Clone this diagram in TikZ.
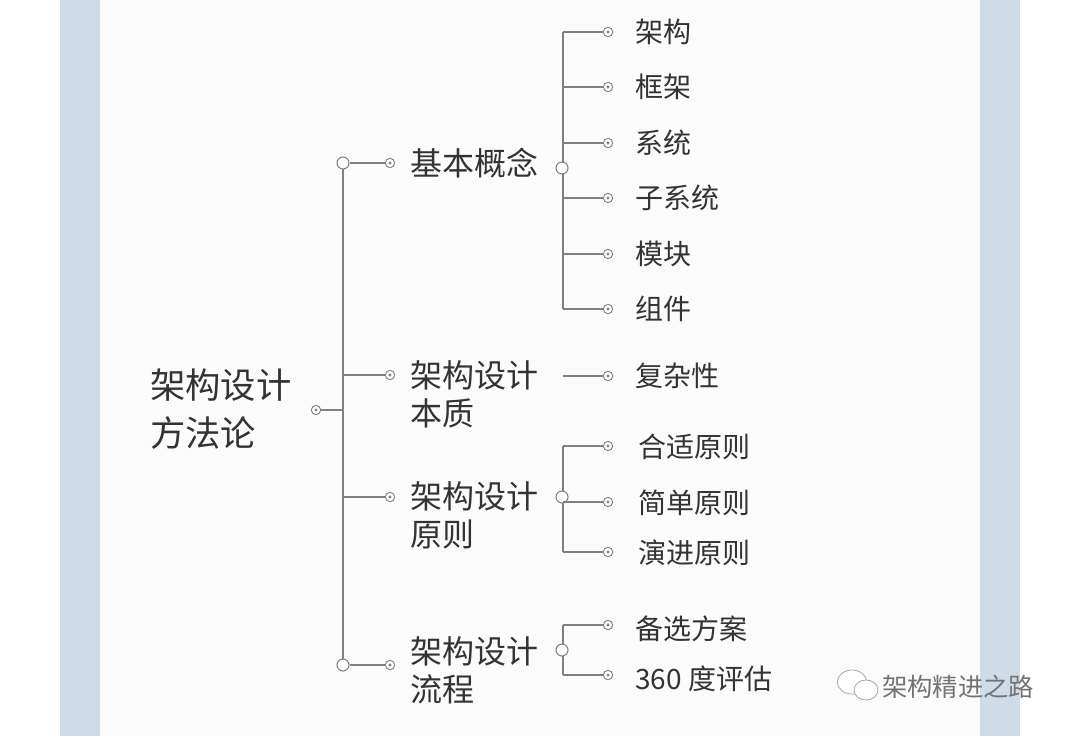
\documentclass[tikz,border=0pt]{standalone}
\usepackage{fontspec}
\newfontfamily\cjk{Noto Sans CJK SC}
\definecolor{bar}{HTML}{CFDCE8}
\begin{document}
\begin{tikzpicture}[x=0.75pt,y=-0.75pt,
  ln/.style={draw=black!50,line width=0.9pt},
  oc/.style={circle,draw=black!50,fill=white,line width=0.8pt,inner sep=0pt,minimum size=9pt},
  dc/.style={circle,draw=black!50,fill=white,line width=0.7pt,inner sep=0pt,minimum size=7pt,path picture={\fill[black!50] (path picture bounding box.center) circle (1.2pt);}},
  big/.style={font=\cjk\fontsize{26.5}{36}\selectfont,text=black!80,anchor=west,align=left,inner sep=0pt},
  mid/.style={font=\cjk\fontsize{24}{29}\selectfont,text=black!80,anchor=west,align=left,inner sep=0pt},
  leaf/.style={font=\cjk\fontsize{21}{24}\selectfont,text=black!80,anchor=west,inner sep=0pt}]
\useasboundingbox (0,0) rectangle (1080,736);
\fill[white] (0,0) rectangle (1080,736);
\fill[bar] (60,0) rectangle (100,736);
\fill[bar] (980,0) rectangle (1020,736);
\fill[gray!3] (100,0) rectangle (980,736);
% root
\node[big] (root) at (150,409) {架构设计\\方法论};
\node[dc] (r) at (316,410) {};
\coordinate (t) at (343,410);
\draw[ln] (r) -- (t);
\coordinate (ttop) at (343,163);
\coordinate (tbot) at (343,665);
\draw[ln] (ttop) -- (tbot);
% branches
\node[oc] (b1o) at (343,163) {};
\node[oc] (b4o) at (343,665) {};
\node[dc] (b1) at (390,163) {};
\node[dc] (b2) at (390,375) {};
\node[dc] (b3) at (390,497) {};
\node[dc] (b4) at (390,665) {};
\coordinate (t2) at (343,375);
\coordinate (t3) at (343,497);
\draw[ln] (b1o) -- (b1);
\draw[ln] (t2) -- (b2);
\draw[ln] (t3) -- (b3);
\draw[ln] (b4o) -- (b4);
\node[mid] (n1) at (410,163) {基本概念};
\node[mid,anchor=north west] (n2) at (410,360) {架构设计\\本质};
\node[mid,anchor=north west] (n3) at (410,481) {架构设计\\原则};
\node[mid,anchor=north west] (n4) at (410,636) {架构设计\\流程};
% sub 1
\coordinate (s1t) at (563,32);
\coordinate (s1b) at (563,309);
\draw[ln] (s1t) -- (s1b);
\node[oc] (s1o) at (562,168) {};
\foreach \y/\t/\n in {32/架构/a,87/框架/b,143/系统/c,198/子系统/d,254/模块/e,309/组件/f}{
  \coordinate (c\n) at (563,\y);
  \node[dc] (d\n) at (608,\y) {};
  \draw[ln] (c\n) -- (d\n);
  \node[leaf] (l\n) at (635,\y) {\t};
}
% sub 2
\coordinate (s2) at (563,376);
\node[dc] (dg) at (608,376) {};
\draw[ln] (s2) -- (dg);
\node[leaf] (lg) at (635,376) {复杂性};
% sub 3
\draw[ln] (563,446) -- (563,552);
\node[oc] (s3o) at (562,497) {};
\foreach \y/\t/\n in {446/合适原则/h,502/简单原则/i,552/演进原则/j}{
  \coordinate (c\n) at (563,\y);
  \node[dc] (d\n) at (608,\y) {};
  \draw[ln] (c\n) -- (d\n);
  \node[leaf] (l\n) at (638,\y+1) {\t};
}
% sub 4
\draw[ln] (563,625) -- (563,675);
\node[oc] (s4o) at (562,650) {};
\foreach \y/\t/\n in {625/备选方案/k,675/360 度评估/m}{
  \coordinate (c\n) at (563,\y);
  \node[dc] (d\n) at (608,\y) {};
  \draw[ln] (c\n) -- (d\n);
  \node[leaf] (l\n) at (635,\y+4) {\t};
}
% watermark
\draw[black!35,line width=0.6pt,fill=white] (852,682) ellipse (11pt and 9pt);
\draw[black!35,line width=0.6pt,fill=white] (866,690) ellipse (9pt and 7.5pt);
\node[font=\cjk\fontsize{19}{22}\selectfont,text=black!55,anchor=west,inner sep=0pt] (wm) at (882,687) {架构精进之路};
\end{tikzpicture}
\end{document}
